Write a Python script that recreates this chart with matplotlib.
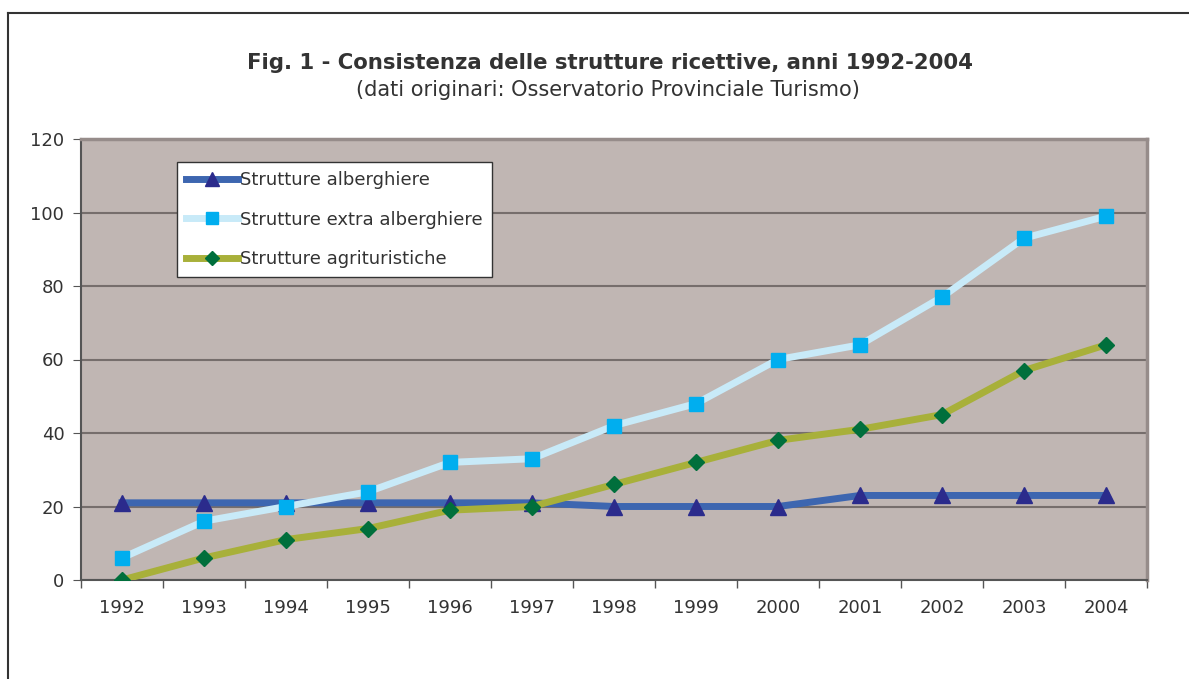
from matplotlib import pyplot as plt
from matplotlib.lines import Line2D
import numpy as np

anni = ['1992', '1993', '1994', '1995', '1996', '1997', '1998',
        '1999', '2000', '2001', '2002', '2003', '2004']
alberghiere = [21, 21, 21, 21, 21, 21, 20, 20, 20, 23, 23, 23, 23]
extra_alberghiere = [6, 16, 20, 24, 32, 33, 42, 48, 60, 64, 77, 93, 99]
agrituristiche = [0, 6, 11, 14, 19, 20, 26, 32, 38, 41, 45, 57, 64]

plt.rcParams['font.family'] = ['DejaVu Sans']

W, H = 1189, 679
fig = plt.figure(figsize=(W / 100, H / 100), dpi=100)
ax = fig.add_axes([81 / W, 1 - 580 / H, (1147 - 81) / W, (580 - 139) / H])
ax.set_facecolor('#c0b6b3')

x = np.arange(len(anni))
ax.plot(x, alberghiere, color='#3d66b0', lw=5, marker='^', ms=11,
        mfc='#2b2b8c', mec='#2b2b8c', label='Strutture alberghiere', zorder=3)
ax.plot(x, extra_alberghiere, color='#c8eaf8', lw=5, marker='s', ms=10,
        mfc='#00aeef', mec='#00aeef', label='Strutture extra alberghiere', zorder=3)
ax.plot(x, agrituristiche, color='#a8b03a', lw=5, marker='D', ms=8,
        mfc='#006f3c', mec='#006f3c', label='Strutture agrituristiche', zorder=4)

ax.set_xlim(-0.5, len(anni) - 0.5)
ax.set_ylim(0, 120)
ax.set_yticks(range(0, 121, 20))
ax.yaxis.grid(True, color='#766e6c', lw=1.5)
ax.set_axisbelow(True)

ax.set_xticks(x)
ax.set_xticklabels(anni)
ax.set_xticks(np.arange(-0.5, len(anni)), minor=True)
ax.tick_params(axis='x', which='major', length=0, pad=14, labelsize=13, labelcolor='#333333')
ax.tick_params(axis='x', which='minor', length=6, color='#555555', width=1)
ax.tick_params(axis='y', length=6, color='#555555', labelsize=13, labelcolor='#333333', pad=6)

for s in ['left', 'bottom']:
    ax.spines[s].set_color('#555555')
    ax.spines[s].set_linewidth(1.5)
for s in ['top', 'right']:
    ax.spines[s].set_color('#968c8a')
    ax.spines[s].set_linewidth(2.5)

leg = ax.legend(loc='upper left', bbox_to_anchor=(0.09, 0.948), fontsize=13,
                frameon=True, fancybox=False, framealpha=1, handlelength=2.9,
                handletextpad=0.12, labelspacing=1.2, borderpad=0.5, borderaxespad=0,
                markerscale=0.9)
leg.get_frame().set_facecolor('white')
leg.get_frame().set_edgecolor('#333333')
leg.get_frame().set_linewidth(1)
for t in leg.get_texts():
    t.set_color('#333333')

fig.text(610 / W, 1 - 63 / H, 'Fig. 1 - Consistenza delle strutture ricettive, anni 1992-2004',
         ha='center', va='center', fontsize=15.3, fontweight='bold', color='#333333')
fig.text(608 / W, 1 - 90 / H, '(dati originari: Osservatorio Provinciale Turismo)',
         ha='center', va='center', fontsize=15, color='#333333')

# frame around the chart
fig.add_artist(Line2D([8 / W, 1], [1 - 13 / H, 1 - 13 / H], color='#333333', lw=1.5))
fig.add_artist(Line2D([8 / W, 8 / W], [0, 1 - 13 / H], color='#333333', lw=1.5))

fig.savefig('out.png', dpi=100)
